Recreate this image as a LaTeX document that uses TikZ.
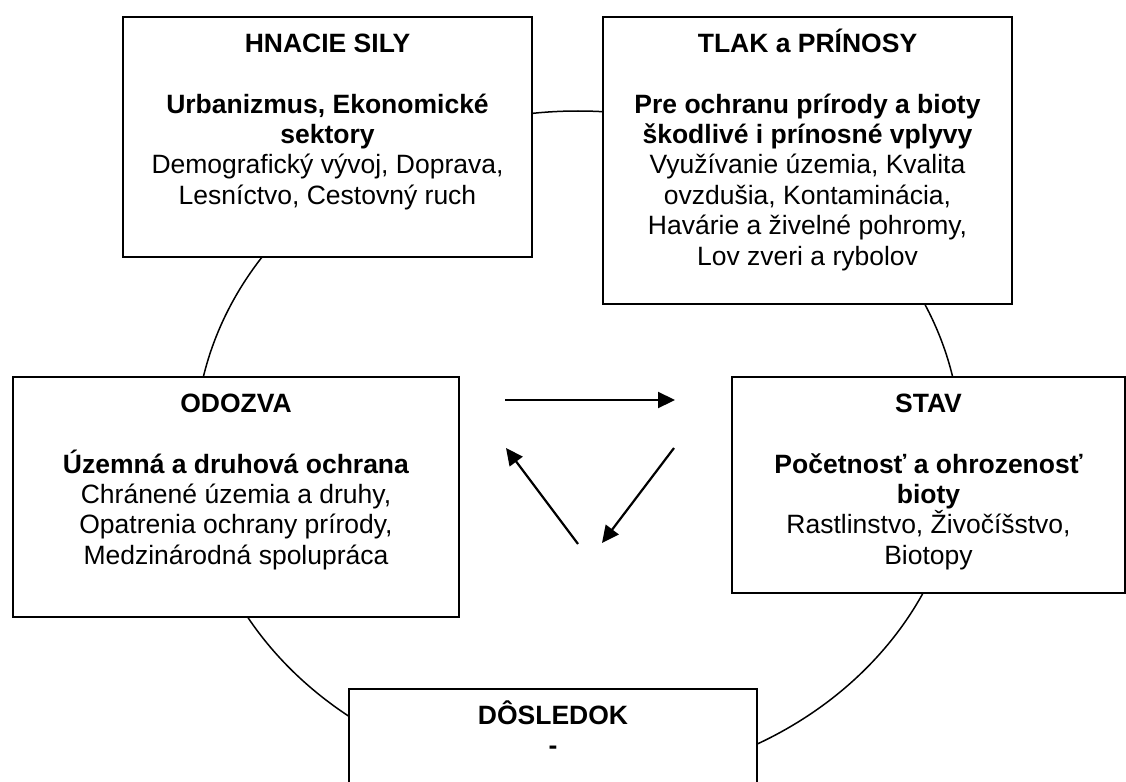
\documentclass[tikz,border=0pt]{standalone}
\usepackage{fontspec}
\setmainfont{Liberation Sans}
\usetikzlibrary{arrows.meta}
\newcommand{\tstrut}{\rule{0pt}{25pt}}
\begin{document}
\begin{tikzpicture}[x=1pt,y=-1pt,
  box/.style={draw, line width=2pt, fill=white, inner sep=0pt, anchor=north west},
  txt/.style={align=center, inner sep=0pt, anchor=north, font=\fontsize{26.5}{30.4}\selectfont},
  ring/.style={line width=1.5pt},
  arr/.style={line width=2.2pt, -{Triangle[length=17pt,width=16pt]}}]
\useasboundingbox (0,0) rectangle (1126,781);
\clip (0,0) rectangle (1126,781);
\draw[ring] (578,447) ellipse [x radius=383pt, y radius=336pt];
% boxes
\node[box, minimum width=409pt, minimum height=240pt] (hs) at (122,16) {};
\node[txt] (hst) at ([yshift=-11pt]hs.north) {\tstrut\textbf{HNACIE SILY}\\[30.4pt]
  \textbf{Urbanizmus, Ekonomické}\\ \textbf{sektory}\\ Demografický vývoj, Doprava,\\ Lesníctvo, Cestovný ruch};
\node[box, minimum width=409pt, minimum height=287pt] (tp) at (602,16) {};
\node[txt] (tpt) at ([yshift=-11pt]tp.north) {\tstrut\textbf{TLAK a PRÍNOSY}\\[30.4pt]
  \textbf{Pre ochranu prírody a bioty}\\ \textbf{škodlivé i prínosné vplyvy}\\ Využívanie územia, Kvalita\\ ovzdušia, Kontaminácia,\\ Havárie a živelné pohromy,\\ Lov zveri a rybolov};
\node[box, minimum width=446pt, minimum height=240pt] (od) at (12,376) {};
\node[txt] (odt) at ([yshift=-11pt]od.north) {\tstrut\textbf{ODOZVA}\\[30.4pt]
  \textbf{Územná a druhová ochrana}\\ Chránené územia a druhy,\\ Opatrenia ochrany prírody,\\ Medzinárodná spolupráca};
\node[box, minimum width=393pt, minimum height=216pt] (st) at (731,376) {};
\node[txt] (stt) at ([yshift=-11pt]st.north) {\tstrut\textbf{STAV}\\[30.4pt]
  \textbf{Početnosť a ohrozenosť}\\ \textbf{bioty}\\ Rastlinstvo, Živočíšstvo,\\ Biotopy};
\node[box, minimum width=408pt, minimum height=150pt] (ds) at (348,688) {};
\node[txt] (dst) at ([yshift=-11pt]ds.north) {\tstrut\textbf{DÔSLEDOK}\\ \textbf{-}};
% arrows
\coordinate (a1s) at (505,400);
\coordinate (a1e) at (675,400);
\coordinate (a2s) at (674,448);
\coordinate (a2e) at (602,543);
\coordinate (a3s) at (578,544);
\coordinate (a3e) at (506,448);
\draw[arr] (a1s) -- (a1e);
\draw[arr] (a2s) -- (a2e);
\draw[arr] (a3s) -- (a3e);
\end{tikzpicture}
\end{document}
